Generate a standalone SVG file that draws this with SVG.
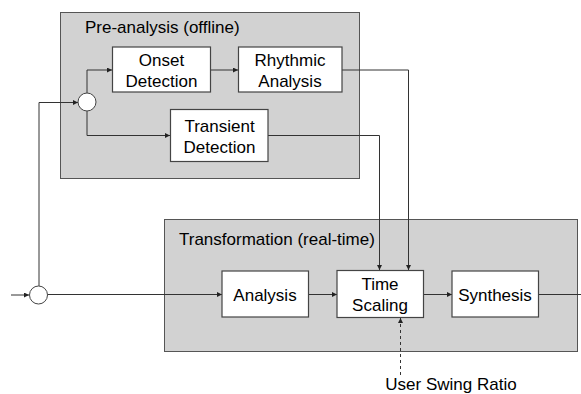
<svg xmlns="http://www.w3.org/2000/svg" width="581" height="394" viewBox="0 0 581 394">
  <defs>
    <marker id="arrow" viewBox="0 0 6 6" refX="6" refY="3" markerWidth="5" markerHeight="5" markerUnits="userSpaceOnUse" orient="auto">
      <path d="M0,0 L6,3 L0,6 z" fill="#222"/>
    </marker>
  </defs>
  <style>
    .group { fill: #d2d2d2; stroke: #555; stroke-width: 1; }
    .block { fill: #fff; stroke: #444; stroke-width: 1.2; }
    .junction { fill: #fff; stroke: #444; stroke-width: 1; }
    .title { font-family: "Liberation Sans", Arial, sans-serif; font-size: 17px; fill: #000; }
    .label { font-family: "Liberation Sans", Arial, sans-serif; font-size: 17px; fill: #000; text-anchor: middle; }
    .wire { fill: none; stroke: #333; stroke-width: 1; }
    .dash { stroke-dasharray: 3 3; }
  </style>

  <rect width="581" height="394" fill="#fff"/>

  <!-- group frames -->
  <g id="pre-analysis">
    <rect class="group" x="60.5" y="12.5" width="299" height="166"/>
    <text class="title" x="85" y="32.5">Pre-analysis (offline)</text>
  </g>
  <g id="transformation">
    <rect class="group" x="164.5" y="219.5" width="413" height="132"/>
    <text class="title" x="179" y="245">Transformation (real-time)</text>
  </g>

  <!-- connectors -->
  <g id="connectors">
    <path class="wire" d="M11,295 H29" marker-end="url(#arrow)"/>
    <path class="wire" d="M39,286 V102.5 H78" marker-end="url(#arrow)"/>
    <path class="wire" d="M87,93 V70 H112" marker-end="url(#arrow)"/>
    <path class="wire" d="M87,111 V135.5 H170" marker-end="url(#arrow)"/>
    <path class="wire" d="M210,70 H238" marker-end="url(#arrow)"/>
    <path class="wire" d="M342,70 H408.5 V270" marker-end="url(#arrow)"/>
    <path class="wire" d="M268,135.5 H379.5 V270" marker-end="url(#arrow)"/>
    <path class="wire" d="M48,294.5 H222" marker-end="url(#arrow)"/>
    <path class="wire" d="M308,294.5 H337" marker-end="url(#arrow)"/>
    <path class="wire" d="M423,294.5 H452" marker-end="url(#arrow)"/>
    <path class="wire" d="M538,294.5 H581"/>
    <path class="wire dash" d="M400.5,375 V318" marker-end="url(#arrow)"/>
  </g>

  <!-- junctions -->
  <g id="split-pre">
    <circle class="junction" cx="87" cy="102" r="9"/>
  </g>
  <g id="split-input">
    <circle class="junction" cx="38.5" cy="295" r="9"/>
  </g>

  <!-- blocks -->
  <g id="onset-detection">
    <rect class="block" x="112.5" y="47" width="98" height="45"/>
    <text class="label" x="161.5" y="66">Onset</text>
    <text class="label" x="161.5" y="87">Detection</text>
  </g>
  <g id="rhythmic-analysis">
    <rect class="block" x="238.5" y="47" width="103.5" height="45"/>
    <text class="label" x="290" y="66">Rhythmic</text>
    <text class="label" x="290" y="87">Analysis</text>
  </g>
  <g id="transient-detection">
    <rect class="block" x="170.5" y="109.5" width="97.5" height="52"/>
    <text class="label" x="219.5" y="131.5">Transient</text>
    <text class="label" x="219.5" y="152.5">Detection</text>
  </g>
  <g id="analysis">
    <rect class="block" x="222" y="271" width="86.5" height="46"/>
    <text class="label" x="265" y="300.5">Analysis</text>
  </g>
  <g id="time-scaling">
    <rect class="block" x="337" y="270.5" width="86.5" height="47"/>
    <text class="label" x="380" y="290">Time</text>
    <text class="label" x="380" y="310.5">Scaling</text>
  </g>
  <g id="synthesis">
    <rect class="block" x="452" y="271" width="86.5" height="46"/>
    <text class="label" x="495" y="300.5">Synthesis</text>
  </g>

  <g id="user-swing-ratio">
    <text class="label" x="451" y="390">User Swing Ratio</text>
  </g>
</svg>
